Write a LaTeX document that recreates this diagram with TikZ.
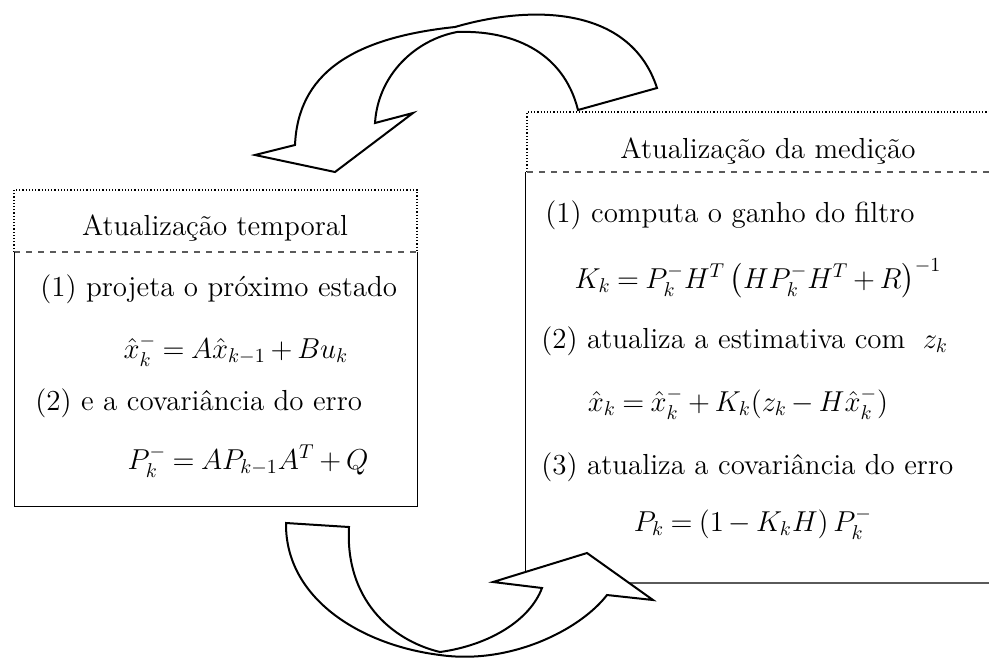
\documentclass[tikz,border=0pt]{standalone}
\usepackage{amsmath}
\usepackage{tikz}
\definecolor{rahmgrau}{HTML}{5A5A5A}
\newcommand{\formel}[1]{$\thickmuskip=4mu\medmuskip=3mu #1$}
\tikzset{
  kopf/.style={black,densely dotted,line width=0.6pt},
  trenn/.style={rahmgrau,dashed,line width=0.6pt},
  rand/.style={black,line width=0.5pt},
  unten/.style={rahmgrau,line width=0.7pt},
  pfeil/.style={fill=white,draw=black,line width=1pt,line join=miter},
  titel/.style={font=\fontsize{14.5}{17}\selectfont,inner sep=0pt,anchor=base},
  txt/.style={font=\fontsize{14.5}{17}\selectfont,inner sep=0pt,anchor=base west},
  gl/.style={font=\fontsize{14}{16}\selectfont,inner sep=0pt,anchor=base},
}

\begin{document}
\begin{tikzpicture}[x=0.5pt,y=-0.5pt]
  \useasboundingbox (0,0) rectangle (989,659);
  % linker Kasten
  \draw[kopf] (14,252)--(14,190)--(417,190)--(417,252);
  \draw[trenn] (14,252)--(417,252);
  \draw[rand] (14,252)--(14,506)--(417,506)--(417,252);
  \node[titel] (ltitel) at (215,235) {Atualização temporal};
  \node[txt] (lschritt1) at (40,296) {(1) projeta o próximo estado};
  \node[gl] (lgl1) at (236,358) {\formel{\hat{x}_k^- = A\hat{x}_{k-1} + Bu_k}};
  \node[txt] (lschritt2) at (35,410) {(2) e a covariância do erro};
  \node[gl] (lgl2) at (248,469) {\formel{P_k^- = AP_{k-1}A^T + Q}};
  % rechter Kasten
  \draw[kopf] (527,172)--(527,112)--(995,112);
  \draw[trenn] (527,172)--(995,172);
  \draw[rand] (525,172)--(525,583);
  \draw[unten] (525,583)--(995,583);
  \node[titel] (rtitel) at (768,158) {Atualização da medição};
  \node[txt] (rschritt1) at (545,222) {(1) computa o ganho do filtro};
  \node[gl] (rgl1) at (758,288) {\formel{K_k = P_k^- H^T \left(HP_k^- H^T + R\right)^{-1}}};
  \node[txt] (rschritt2) at (541,348) {(2) atualiza a estimativa com \;$z_k$};
  \node[gl] (rgl2) at (738,411) {\formel{\hat{x}_k = \hat{x}_k^- + K_k(z_k - H\hat{x}_k^-)}};
  \node[txt] (rschritt3) at (541,474) {(3) atualiza a covariância do erro};
  \node[gl] (rgl3) at (753,531) {\formel{P_k = \left(1 - K_k H\right)P_k^-}};
  % oberer Pfeil
  \filldraw[pfeil] (657,88) -- (578,110)
    .. controls (563,50) and (510,30) .. (457,32)
    .. controls (415,40) and (378,75) .. (375,123)
    -- (413,113) -- (335,172) -- (255,155) -- (295,145)
    .. controls (298,75) and (350,38) .. (455,27)
    .. controls (530,5) and (630,5) .. (657,88) -- cycle;
  % unterer Pfeil
  \filldraw[pfeil] (286,523) -- (349,527)
    .. controls (345,598) and (390,640) .. (440,652)
    .. controls (490,645) and (530,620) .. (542,588)
    -- (493,582) -- (587,553) -- (653,600) -- (607,595)
    .. controls (580,630) and (510,665) .. (440,655)
    .. controls (360,645) and (285,598) .. (286,523) -- cycle;
\end{tikzpicture}
\end{document}
